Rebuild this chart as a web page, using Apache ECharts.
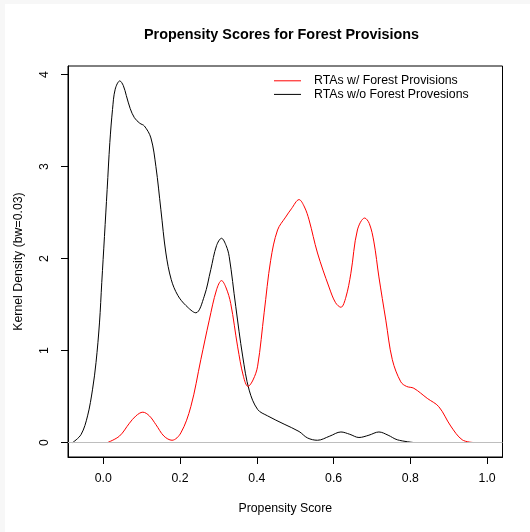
<!DOCTYPE html>
<html>
<head>
<meta charset="utf-8">
<script src="https://cdn.jsdelivr.net/npm/echarts@6/dist/echarts.min.js"></script>
<style>
  html, body { margin: 0; padding: 0; background: #f7f7f7; }
  #chart { position: absolute; left: 5px; top: 4px; width: 525px; height: 528px; background: #ffffff; }
</style>
</head>
<body>
<div id="chart"></div>
<script>
// Kernel density estimates of propensity scores (bw = 0.03)
const blackName = 'RTAs w/o Forest Provesions';
const redName = 'RTAs w/ Forest Provisions';

const blackX = [-0.080, -0.058, -0.041, -0.028, -0.019, -0.010, -0.004, 0.003, 0.010, 0.017, 0.024, 0.031,
  0.043, 0.052, 0.060, 0.070, 0.081, 0.095, 0.107, 0.124, 0.137, 0.150, 0.163, 0.177, 0.194, 0.215,
  0.241, 0.263, 0.280, 0.295, 0.308, 0.320, 0.328, 0.345, 0.363, 0.380, 0.402, 0.428, 0.471, 0.510,
  0.532, 0.558, 0.590, 0.619, 0.642, 0.666, 0.692, 0.718, 0.742, 0.766, 0.809];
const blackY = [0.00, 0.087, 0.29, 0.58, 0.87, 1.30, 1.74, 2.24, 2.75, 3.26, 3.62, 3.84,
  3.93, 3.88, 3.77, 3.63, 3.53, 3.47, 3.44, 3.31, 3.00, 2.53, 2.06, 1.77, 1.60, 1.49,
  1.41, 1.59, 1.88, 2.14, 2.22, 2.14, 2.02, 1.48, 0.94, 0.57, 0.36, 0.29, 0.20, 0.12,
  0.05, 0.025, 0.07, 0.115, 0.09, 0.055, 0.08, 0.115, 0.08, 0.03, 0.00];

const redX = [0.011, 0.042, 0.068, 0.085, 0.103, 0.120, 0.137, 0.158, 0.179, 0.202, 0.228, 0.254,
  0.276, 0.295, 0.308, 0.320, 0.332, 0.350, 0.365, 0.377, 0.390, 0.402, 0.419, 0.436, 0.454, 0.475,
  0.490, 0.510, 0.524, 0.536, 0.558, 0.588, 0.605, 0.619, 0.632, 0.645, 0.662, 0.681, 0.693, 0.705,
  0.718, 0.736, 0.753, 0.775, 0.790, 0.809, 0.844, 0.874, 0.905, 0.935, 0.965];
const redY = [0.00, 0.07, 0.21, 0.29, 0.33, 0.29, 0.195, 0.07, 0.025, 0.105, 0.39, 0.90,
  1.33, 1.66, 1.76, 1.68, 1.51, 1.04, 0.72, 0.61, 0.68, 0.83, 1.41, 1.98, 2.31, 2.45,
  2.54, 2.64, 2.56, 2.42, 2.06, 1.69, 1.52, 1.47, 1.58, 1.84, 2.31, 2.44, 2.38, 2.18,
  1.80, 1.33, 0.90, 0.66, 0.61, 0.59, 0.48, 0.39, 0.18, 0.03, 0.00];

const xTicks = [0.0, 0.2, 0.4, 0.6, 0.8, 1.0];
const yTicks = [0, 1, 2, 3, 4];

const pairs = (xs, ys) => xs.map((x, i) => [x, ys[i]]);
const font = '"Liberation Sans", Arial, Helvetica, sans-serif';

const chart = echarts.init(document.getElementById('chart'), null, { renderer: 'canvas' });
chart.setOption({
  animation: false,
  backgroundColor: '#ffffff',
  title: {
    text: 'Propensity Scores for Forest Provisions',
    left: 139,
    top: 24,
    padding: 0,
    textStyle: { fontFamily: font, fontSize: 14.4, fontWeight: 'bold', color: '#000' }
  },
  legend: {
    orient: 'vertical',
    left: 269,
    top: 70,
    padding: 0,
    itemGap: 0,
    itemWidth: 27,
    itemHeight: 1,
    icon: 'rect',
    data: [
      { name: redName, itemStyle: { color: '#ff0000' } },
      { name: blackName, itemStyle: { color: '#000000' } }
    ],
    textStyle: { fontFamily: font, fontSize: 12.3, color: '#000', lineHeight: 13.6, padding: [0, 0, 0, 8] }
  },
  grid: {
    left: 62, right: 27.5, top: 62, bottom: 75,
    show: true, borderColor: '#000', borderWidth: 1, backgroundColor: 'transparent'
  },
  xAxis: {
    type: 'value',
    min: -0.092, max: 1.040,
    name: 'Propensity Score',
    nameLocation: 'middle',
    nameGap: 46,
    nameTextStyle: { fontFamily: font, fontSize: 12.3, color: '#000' },
    axisLine: { show: true, onZero: false, lineStyle: { color: '#000', width: 1 } },
    axisTick: { show: true, length: 7, lineStyle: { color: '#000' }, customValues: xTicks },
    axisLabel: {
      customValues: xTicks, margin: 16,
      fontFamily: font, fontSize: 12.3, color: '#000',
      formatter: v => v.toFixed(1)
    },
    splitLine: { show: false }
  },
  yAxis: {
    type: 'value',
    min: -0.157, max: 4.092,
    name: 'Kernel Density (bw=0.03)',
    nameLocation: 'middle',
    nameGap: 43,
    nameTextStyle: { fontFamily: font, fontSize: 12.3, color: '#000' },
    axisLine: { show: true, onZero: false, lineStyle: { color: '#000', width: 1 } },
    axisTick: { show: true, length: 7, lineStyle: { color: '#000' }, customValues: yTicks },
    axisLabel: {
      customValues: yTicks, margin: 17, rotate: 90,
      fontFamily: font, fontSize: 12.3, color: '#000'
    },
    splitLine: { show: false }
  },
  series: [
    {
      name: blackName,
      type: 'line',
      data: pairs(blackX, blackY),
      smooth: 0.35,
      showSymbol: false,
      lineStyle: { color: '#000000', width: 1 },
      itemStyle: { color: '#000000' },
      markLine: {
        silent: true,
        symbol: 'none',
        label: { show: false },
        lineStyle: { color: '#bebebe', width: 1, type: 'solid' },
        data: [{ yAxis: 0 }]
      },
      z: 3
    },
    {
      name: redName,
      type: 'line',
      data: pairs(redX, redY),
      smooth: 0.35,
      showSymbol: false,
      lineStyle: { color: '#ff0000', width: 1 },
      itemStyle: { color: '#ff0000' },
      z: 3
    }
  ]
});
</script>
</body>
</html>
